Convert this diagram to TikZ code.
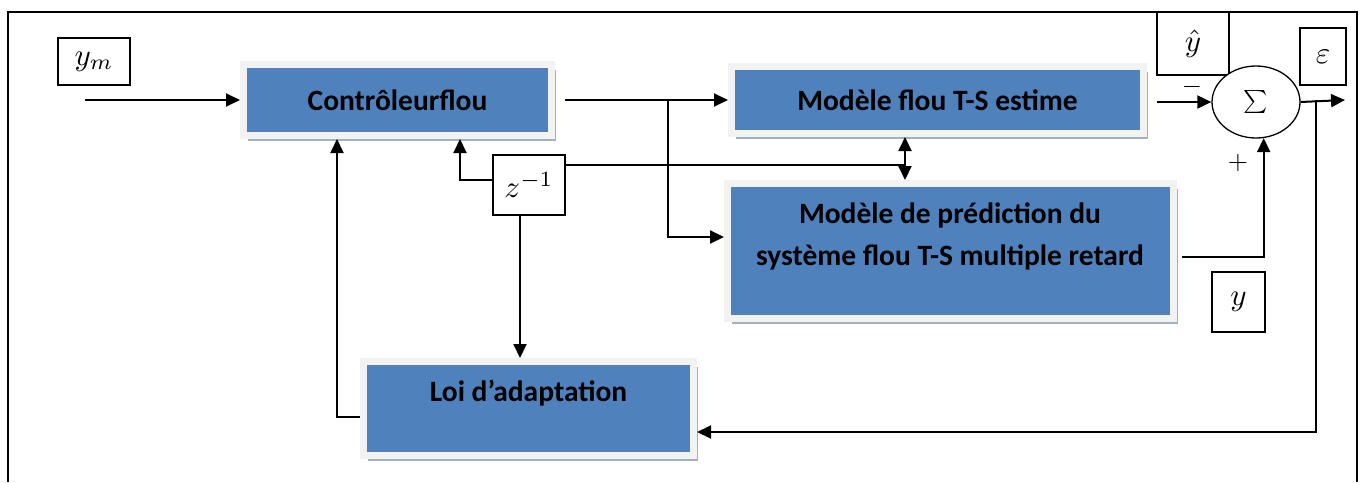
\documentclass[tikz,border=0pt]{standalone}
\usepackage{graphicx}
\usepackage{fontspec}
\setmainfont{Carlito}
\usetikzlibrary{arrows.meta,shadows,shapes.geometric}
\definecolor{blk}{HTML}{4F81BD}
\definecolor{brd}{HTML}{F2F2F2}
\definecolor{shd}{HTML}{A3B0C2}
\newcommand{\lblmath}[1]{\scalebox{3.1}{$#1$}}
\newcommand{\sgnmath}[1]{\scalebox{2.6}{$#1$}}
\tikzset{
  blockbox/.style={rectangle, fill=blk, draw=brd, line width=7pt,
    drop shadow={shadow xshift=4pt, shadow yshift=-5pt, fill=shd, opacity=1}},
  btext/.style={font=\fontsize{29.5}{42}\selectfont\bfseries, align=center, inner sep=0pt},
  lbox/.style={rectangle, draw, line width=1.3pt, fill=white, inner sep=0pt},
  wire/.style={line width=2pt},
  arr/.style={wire, -{Triangle[length=14pt,width=13pt]}},
  darr/.style={wire, {Triangle[length=14pt,width=13pt]}-{Triangle[length=14pt,width=13pt]}},
  sign/.style={inner sep=0pt}
}
\begin{document}
\begin{tikzpicture}[x=1pt,y=-1pt]
\useasboundingbox (0,0) rectangle (1367,482);
\fill[white] (0,0) rectangle (1367,482);
% outer frame
\draw[line width=2pt] (8,482) -- (8,12) -- (1357,12) -- (1357,482);

% blocks
\node[blockbox, minimum width=308pt, minimum height=71pt] (ctrl) at (397.5,100) {};
\node[btext] (ctrlt) at (ctrl.center) {Contrôleurflou};
\node[blockbox, minimum width=412pt, minimum height=67pt] (est) at (937.5,100) {};
\node[btext] (estt) at (est.center) {Modèle flou T-S estime};
\node[blockbox, minimum width=446pt, minimum height=135pt] (pred) at (950.5,251) {};
\node[btext] (predt) at (950,236) {Modèle de prédiction du\\système flou T-S multiple retard};
\node[blockbox, minimum width=330pt, minimum height=94pt] (loi) at (528.5,408.5) {};
\node[btext] (loit) at (528.5,393) {Loi d’adaptation};

% small boxes
\node[lbox, minimum width=72pt, minimum height=47pt] (ym) at (94,61.5) {\lblmath{y_m}};
\node[lbox, minimum width=72pt, minimum height=60pt] (z) at (529,185) {\lblmath{z^{-1}}};
\node[lbox, minimum width=72pt, minimum height=63pt] (yh) at (1193,43.5) {\lblmath{\hat{y}}};
\node[lbox, minimum width=46pt, minimum height=57pt] (eps) at (1323,56.5) {\lblmath{\varepsilon}};
\node[lbox, minimum width=53pt, minimum height=60pt] (yy) at (1238.5,302) {\lblmath{y}};
\node[ellipse, draw, line width=1.3pt, fill=white, minimum width=88pt, minimum height=72pt, inner sep=0pt]
  (sum) at (1256,102) {\scalebox{2.3}{$\sum$}};
\node[sign] (minus) at (1192,87) {\sgnmath{-}};
\node[sign] (plus) at (1238,163) {\sgnmath{+}};

% coordinates
\coordinate (in) at (85,100);
\coordinate (j1) at (668,100);
\coordinate (j2) at (668,237);
\coordinate (cz) at (460,0);
\coordinate (jd) at (905,165);
\coordinate (cl) at (520,0);
\coordinate (cf) at (337,0);
\coordinate (out) at (1345,100);
\coordinate (fb) at (1316,100);
\coordinate (fb2) at (1316,432);

% connectors
\draw[arr] (in) -- (in -| ctrl.west);
\draw[arr] ([xshift=10pt]ctrl.east) -- (j1) -- (j1 -| est.west);
\draw[arr] (j1) -- (j2) -- (j2 -| pred.west);
\draw[arr] ([yshift=5pt]z.west) -| (ctrl.south -| cz);
\draw[wire] ([yshift=20pt]z.east) -- (jd);
\draw[darr] (est.south -| jd) -- (pred.north -| jd);
\draw[arr] (z.south -| cl) -- (loi.north -| cl);
\draw[arr] ([yshift=-8.5pt]loi.west) -| (ctrl.south -| cf);
\draw[arr] ([xshift=10pt]est.east |- sum.west) -- (sum.west);
\draw[arr] ([yshift=-6pt, xshift=5pt]pred.east) -| (sum.-78);
\draw[arr] (sum.east) -- (out);
\draw[arr] (fb) -- (fb2) -- (fb2 -| loi.east);
\end{tikzpicture}
\end{document}
